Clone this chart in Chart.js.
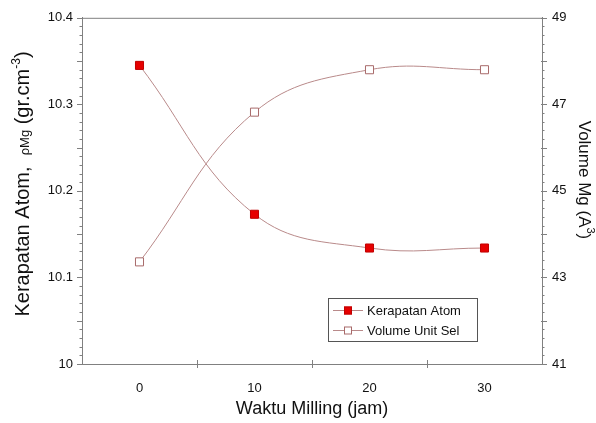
<!DOCTYPE html>
<html>
<head>
<meta charset="utf-8">
<script src="https://cdn.jsdelivr.net/npm/chart.js@4.4.1/dist/chart.umd.min.js"></script>
<style>
  html, body { margin: 0; padding: 0; background: #fff; }
  canvas { display: block; }
</style>
</head>
<body>
<canvas id="canvas" width="596" height="423"></canvas>
<script>
const milling = [0, 10, 20, 30];
const kerapatan = [10.345, 10.173, 10.134, 10.134];
const volume = [43.36, 46.82, 47.80, 47.80];

const xTicks = [0, 10, 20, 30];
const densityTicks = [10, 10.1, 10.2, 10.3, 10.4];
const volumeTicks = [41, 43, 45, 47, 49];

const FONT = '"Liberation Sans", Arial, sans-serif';
const axisColor = '#808080';
const lineColor = '#b98a8a';

const pts = (ys) => milling.map((x, i) => ({ x: x, y: ys[i] }));

// minor ticks, frame, rich axis titles and the legend box
const decor = {
    id: 'decor',
    afterDraw(chart) {
        const { ctx, chartArea: a, scales } = chart;
        const seg = (x1, y1, x2, y2) => {
            ctx.beginPath(); ctx.moveTo(x1, y1); ctx.lineTo(x2, y2); ctx.stroke();
        };
        ctx.save();
        ctx.strokeStyle = axisColor;
        ctx.lineWidth = 1;
        seg(a.left, a.top + 0.5, a.right, a.top + 0.5);

        for (let i = 0; i <= 40; i++) {
            const y = Math.round(scales.y.getPixelForValue(10 + i * 0.01)) + 0.5;
            const major = i % 5 === 0;
            seg(a.left - (major ? 5 : 2.5), y, a.left + (major ? 1 : 0), y);
        }
        for (let i = 0; i <= 40; i++) {
            const y = Math.round(scales.y1.getPixelForValue(41 + i * 0.2)) + 0.5;
            const major = i % 5 === 0;
            seg(a.right - (major ? 1 : 0), y, a.right + (major ? 5 : 2.5), y);
        }
        [5, 15, 25].forEach(v => {
            const x = Math.round(scales.x.getPixelForValue(v)) + 0.5;
            seg(x, a.bottom - 4, x, a.bottom + 4);
        });

        const rich = (parts, cx, baseY, rot) => {
            let total = 0;
            parts.forEach(p => {
                ctx.font = p.size + 'px ' + FONT;
                p.w = ctx.measureText(p.text).width;
                total += p.w;
            });
            ctx.save();
            ctx.translate(cx, baseY);
            ctx.rotate(rot);
            ctx.fillStyle = '#111';
            ctx.textBaseline = 'alphabetic';
            let x = -total / 2;
            parts.forEach(p => {
                ctx.font = p.size + 'px ' + FONT;
                ctx.fillText(p.text, x, p.dy || 0);
                x += p.w;
            });
            ctx.restore();
        };
        rich([
            { text: 'Kerapatan Atom,  ', size: 20 },
            { text: '\u03c1Mg', size: 13 },
            { text: ' (gr.cm', size: 20 },
            { text: '-3', size: 12, dy: -9 },
            { text: ')', size: 20 }
        ], 29, 184, -Math.PI / 2);
        rich([
            { text: 'Volume Mg (A', size: 17 },
            { text: '3', size: 11, dy: -8 },
            { text: ')', size: 17 }
        ], 579, 180, Math.PI / 2);

        // legend
        const lx = 328, ly = 298, lw = 149, lh = 43;
        ctx.strokeStyle = '#555';
        ctx.strokeRect(lx + 0.5, ly + 0.5, lw, lh);
        chart.data.datasets.forEach((ds, i) => {
            const y = ly + 12 + i * 20;
            ctx.strokeStyle = ds.borderColor;
            seg(lx + 5, y + 0.5, lx + 35, y + 0.5);
            ctx.fillStyle = ds.pointBackgroundColor;
            ctx.strokeStyle = ds.pointBorderColor;
            ctx.fillRect(lx + 16, y - 3.5, 8, 8);
            ctx.strokeRect(lx + 16.5, y - 3, 7, 7);
            ctx.fillStyle = '#111';
            ctx.font = '13px ' + FONT;
            ctx.textBaseline = 'middle';
            ctx.fillText(ds.label, lx + 39, y + 1);
        });
        ctx.restore();
    }
};

new Chart(document.getElementById('canvas'), {
    type: 'line',
    data: {
        datasets: [{
            label: 'Kerapatan Atom',
            data: pts(kerapatan),
            yAxisID: 'y',
            borderColor: lineColor,
            borderWidth: 1,
            pointStyle: 'rect',
            pointRadius: 5.7,
            pointBackgroundColor: '#e60000',
            pointBorderColor: '#c00000',
            pointBorderWidth: 1,
            tension: 0.4,
            fill: false
        }, {
            label: 'Volume Unit Sel',
            data: pts(volume),
            yAxisID: 'y1',
            borderColor: lineColor,
            borderWidth: 1,
            pointStyle: 'rect',
            pointRadius: 5.7,
            pointBackgroundColor: '#ffffff',
            pointBorderColor: '#a86a6a',
            pointBorderWidth: 1,
            tension: 0.4,
            fill: false
        }]
    },
    options: {
        responsive: false,
        animation: false,
        layout: { padding: { top: 15, left: 0, right: 0, bottom: 0 } },
        plugins: { legend: { display: false }, tooltip: { enabled: false } },
        scales: {
            x: {
                type: 'linear',
                min: -5,
                max: 35,
                afterBuildTicks: (s) => { s.ticks = xTicks.map(v => ({ value: v })); },
                afterFit: (s) => { s.height = 59; },
                grid: { display: false, drawTicks: false },
                border: { color: axisColor },
                ticks: { color: '#111', padding: 17, font: { family: FONT, size: 13 } },
                title: {
                    display: true,
                    text: 'Waktu Milling (jam)',
                    color: '#111',
                    font: { family: FONT, size: 18 },
                    padding: { top: 0, bottom: 3 }
                }
            },
            y: {
                position: 'left',
                min: 10,
                max: 10.4,
                afterBuildTicks: (s) => { s.ticks = densityTicks.map(v => ({ value: v })); },
                afterFit: (s) => { s.width = 82; },
                grid: { display: false, drawTicks: false },
                border: { color: axisColor },
                ticks: {
                    color: '#111',
                    padding: 9,
                    font: { family: FONT, size: 13 },
                    callback: (v) => String(Math.round(v * 10) / 10)
                }
            },
            y1: {
                position: 'right',
                min: 41,
                max: 49,
                afterBuildTicks: (s) => { s.ticks = volumeTicks.map(v => ({ value: v })); },
                afterFit: (s) => { s.width = 54; },
                grid: { display: false, drawTicks: false },
                border: { color: axisColor },
                ticks: { color: '#111', padding: 10, font: { family: FONT, size: 13 } }
            }
        }
    },
    plugins: [decor]
});
</script>
</body>
</html>
